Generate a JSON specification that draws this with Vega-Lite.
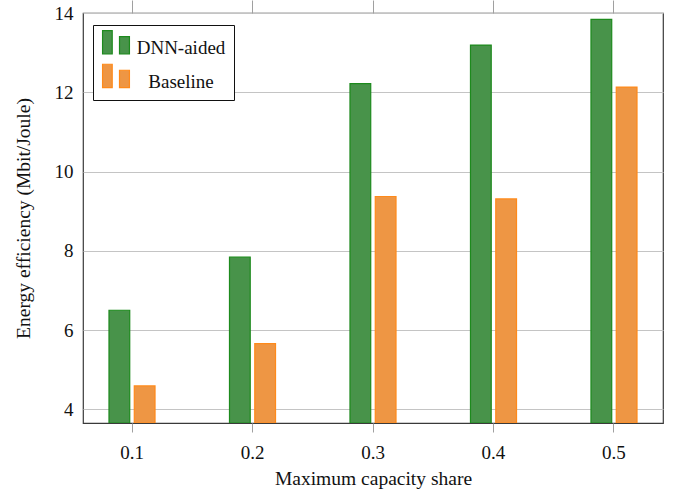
{
  "$schema": "https://vega.github.io/schema/vega-lite/v6.json",
  "width": 580,
  "height": 410,
  "autosize": {"type": "none"},
  "padding": {"left": 83, "top": 13, "right": 15, "bottom": 76},
  "config": {
    "font": "Liberation Serif",
    "view": {"stroke": "#3a3a3a", "strokeWidth": 1.2},
    "axis": {"labelFont": "Liberation Serif", "titleFont": "Liberation Serif", "labelFontSize": 19, "titleFontSize": 19.5, "titleFontWeight": "normal", "labelColor": "#111", "titleColor": "#111"},
    "legend": {"labelFont": "Liberation Serif", "labelFontSize": 19, "labelColor": "#111"}
  },
  "data": {
    "values": [
      {"share": "0.1", "series": "DNN-aided", "value": 6.50},
      {"share": "0.1", "series": "Baseline", "value": 4.59},
      {"share": "0.2", "series": "DNN-aided", "value": 7.84},
      {"share": "0.2", "series": "Baseline", "value": 5.66},
      {"share": "0.3", "series": "DNN-aided", "value": 12.22},
      {"share": "0.3", "series": "Baseline", "value": 9.37},
      {"share": "0.4", "series": "DNN-aided", "value": 13.19},
      {"share": "0.4", "series": "Baseline", "value": 9.31},
      {"share": "0.5", "series": "DNN-aided", "value": 13.84},
      {"share": "0.5", "series": "Baseline", "value": 12.13}
    ]
  },
  "resolve": {"axis": {"x": "independent"}},
  "layer": [
    {
      "mark": {"type": "bar", "strokeWidth": 1.2, "clip": true},
      "encoding": {
        "x": {
          "field": "share", "type": "nominal", "sort": null,
          "scale": {"paddingInner": 0.618, "paddingOuter": 0.2157},
          "axis": {"orient": "bottom", "title": "Maximum capacity share", "labelAngle": 0, "domain": false, "grid": false, "ticks": true, "tickSize": 9, "tickColor": "#a0a0a0", "labelPadding": 11, "titlePadding": 7}
        },
        "xOffset": {"field": "series", "type": "nominal", "sort": ["DNN-aided", "Baseline"], "scale": {"paddingInner": 0.18, "paddingOuter": 0}},
        "y": {
          "field": "value", "type": "quantitative", "stack": null,
          "scale": {"domain": [3.655, 14.0], "nice": false, "zero": false},
          "axis": {"title": "Energy efficiency (Mbit/Joule)", "values": [4, 6, 8, 10, 12, 14], "grid": true, "gridColor": "#c4c4c4", "gridWidth": 1, "ticks": false, "domain": false, "labelPadding": 10, "titlePadding": 21}
        },
        "fill": {
          "field": "series", "type": "nominal", "sort": ["DNN-aided", "Baseline"],
          "scale": {"domain": ["DNN-aided", "Baseline"], "range": ["#48934a", "#ee9644"]},
          "legend": {"title": null, "orient": "none", "legendX": 10, "legendY": 12, "strokeColor": "#111", "fillColor": "white", "padding": 8, "cornerRadius": 0, "symbolType": "M-0.96,-1.24H-0.27V0.43H-0.96Z M0.25,-0.81H0.96V0.43H0.25Z", "symbolSize": 784, "symbolStrokeWidth": 1.2, "labelAlign": "center", "labelOffset": 50, "rowPadding": 3.6, "symbolOpacity": 1}
        },
        "stroke": {
          "field": "series", "type": "nominal", "sort": ["DNN-aided", "Baseline"],
          "scale": {"domain": ["DNN-aided", "Baseline"], "range": ["#1d8a1d", "#ff8a1a"]},
          "legend": {"title": null, "orient": "none", "legendX": 10, "legendY": 12, "strokeColor": "#111", "fillColor": "white", "padding": 8, "cornerRadius": 0, "symbolType": "M-0.96,-1.24H-0.27V0.43H-0.96Z M0.25,-0.81H0.96V0.43H0.25Z", "symbolSize": 784, "symbolStrokeWidth": 1.2, "labelAlign": "center", "labelOffset": 50, "rowPadding": 3.6, "symbolOpacity": 1}
        }
      }
    },
    {
      "mark": {"type": "rule", "opacity": 0},
      "encoding": {
        "x": {
          "field": "share", "type": "nominal", "sort": null,
          "axis": {"orient": "top", "title": null, "labels": false, "domain": false, "grid": false, "ticks": true, "tickSize": 13, "tickColor": "#a0a0a0"}
        }
      }
    }
  ]
}
